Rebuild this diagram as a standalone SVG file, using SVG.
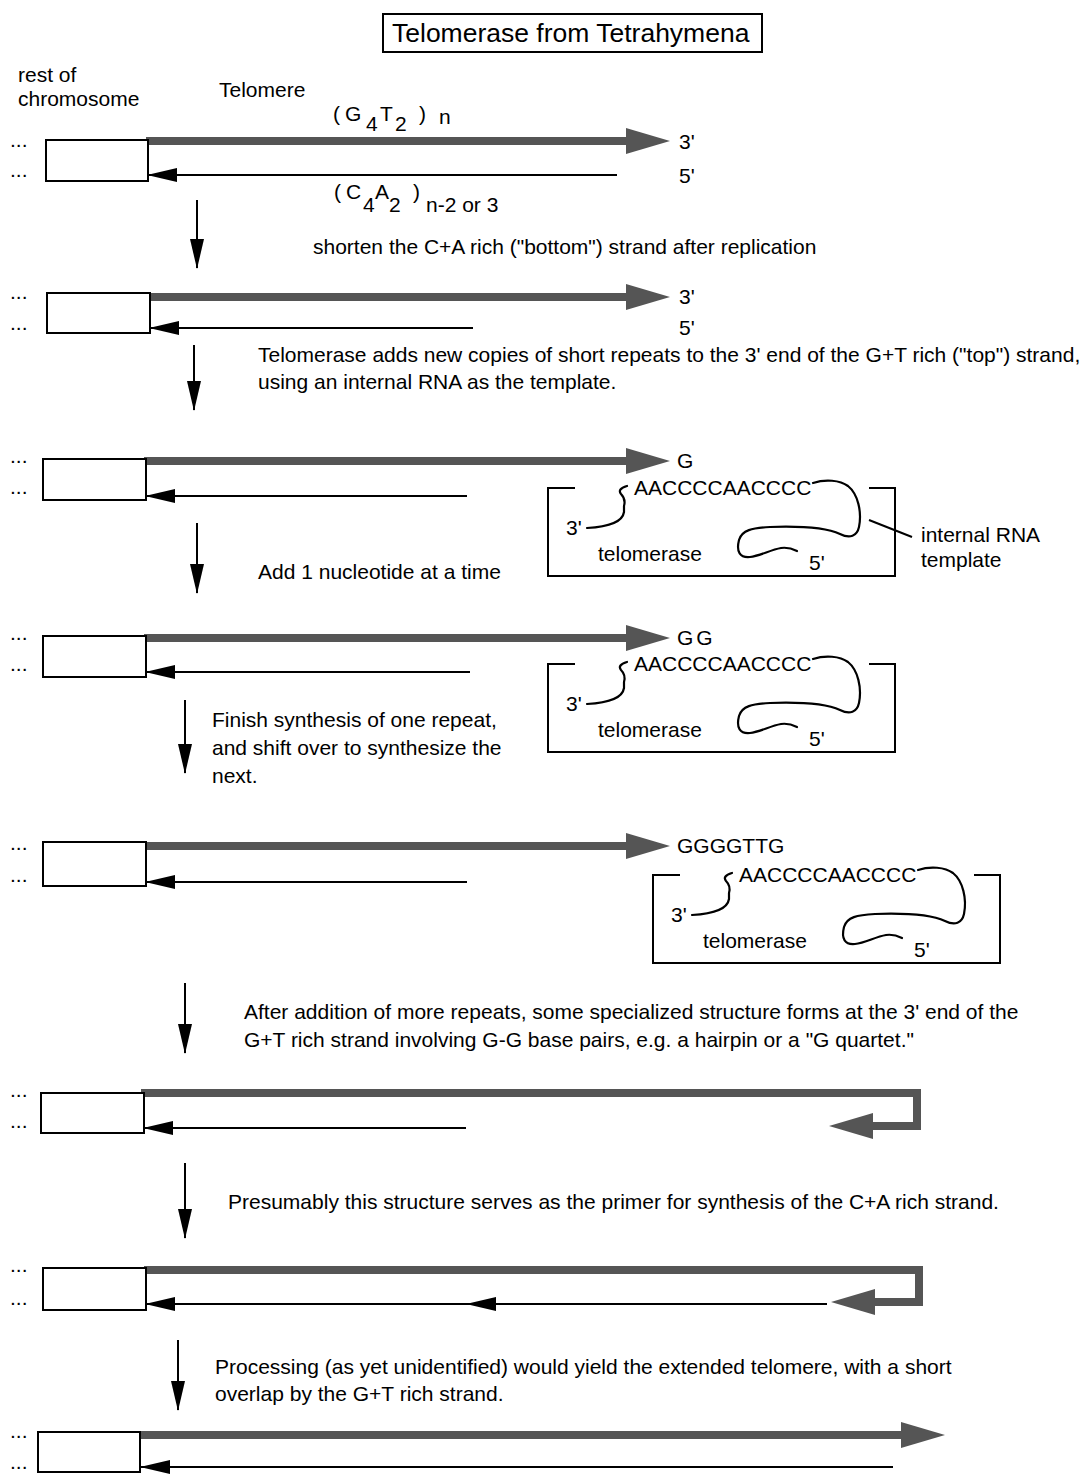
<svg xmlns="http://www.w3.org/2000/svg" width="1091" height="1475" viewBox="0 0 1091 1475">
<style>
text { font-family: "Liberation Sans", Arial, sans-serif; font-size: 21px; fill: #000; }
.title { font-size: 26.5px; }
.box { fill: #fff; stroke: #000; stroke-width: 2; }
.thick { fill: none; stroke: #555; stroke-width: 8; stroke-linejoin: miter; marker-end: url(#thickHead); }
.thin { fill: none; stroke: #000; stroke-width: 2; marker-end: url(#thinHead); }
.rna { fill: none; stroke: #000; stroke-width: 2.2; stroke-linecap: round; stroke-linejoin: round; }
.bracket { fill: none; stroke: #000; stroke-width: 2; }
</style>
<defs>
<marker id="thickHead" viewBox="0 0 44 26" markerWidth="44" markerHeight="26" refX="1" refY="13" orient="auto" markerUnits="userSpaceOnUse">
<path d="M0,0 L44,13 L0,26 z" fill="#555"/>
</marker>
<marker id="thinHead" viewBox="0 0 30 14" markerWidth="30" markerHeight="14" refX="29" refY="7" orient="auto" markerUnits="userSpaceOnUse">
<path d="M0,0 L30,7 L0,14 z" fill="#000"/>
</marker>
</defs>

<g id="title">
<rect x="383" y="14" width="379" height="38" fill="#fff" stroke="#000" stroke-width="2"/>
<text class="title" x="392" y="42">Telomerase from Tetrahymena</text>
</g>

<g id="labels">
<text x="18" y="82">rest of</text>
<text x="18" y="106">chromosome</text>
<text x="219" y="97">Telomere</text>
<text><tspan x="333" y="121">(</tspan><tspan x="345" y="121">G</tspan><tspan x="366" y="131">4</tspan><tspan x="380" y="121">T</tspan><tspan x="395" y="131">2</tspan><tspan x="419" y="121">)</tspan><tspan x="439" y="124">n</tspan></text>
<text><tspan x="334" y="199">(</tspan><tspan x="346" y="199">C</tspan><tspan x="363" y="212">4</tspan><tspan x="375" y="199">A</tspan><tspan x="389" y="212">2</tspan><tspan x="413" y="199">)</tspan><tspan x="426" y="212">n-2 or 3</tspan></text>
</g>

<g id="steps">
<text x="313" y="254">shorten the C+A rich ("bottom") strand after replication</text>
<text x="258" y="362">Telomerase adds new copies of short repeats to the 3' end of the G+T rich ("top") strand,</text>
<text x="258" y="389">using an internal RNA as the template.</text>
<text x="258" y="579">Add 1 nucleotide at a time</text>
<text x="212" y="727">Finish synthesis of one repeat,</text>
<text x="212" y="755">and shift over to synthesize the</text>
<text x="212" y="783">next.</text>
<text x="244" y="1019">After addition of more repeats, some specialized structure forms at the 3' end of the</text>
<text x="244" y="1047">G+T rich strand involving G-G base pairs, e.g. a hairpin or a "G quartet."</text>
<text x="228" y="1209">Presumably this structure serves as the primer for synthesis of the C+A rich strand.</text>
<text x="215" y="1374">Processing (as yet unidentified) would yield the extended telomere, with a short</text>
<text x="215" y="1401">overlap by the G+T rich strand.</text>
</g>

<g id="connectors">
<path class="thin" d="M197 200 V268"/>
<path class="thin" d="M194 345 V410"/>
<path class="thin" d="M197 523 V593"/>
<path class="thin" d="M185 700 V773"/>
<path class="thin" d="M185 983 V1053"/>
<path class="thin" d="M185 1163 V1238"/>
<path class="thin" d="M178 1340 V1410"/>
</g>

<g id="row1">
<text x="10" y="147">...</text>
<text x="10" y="177">...</text>
<path class="thick" d="M146 141 H627"/>
<path class="thin" d="M617 175 H148"/>
<rect class="box" x="46" y="140" width="102" height="41"/>
<text x="679" y="149">3'</text>
<text x="679" y="183">5'</text>
</g>

<g id="row2">
<text x="10" y="299">...</text>
<text x="10" y="330">...</text>
<path class="thick" d="M148 297 H627"/>
<path class="thin" d="M473 328 H150"/>
<rect class="box" x="47" y="293" width="103" height="40"/>
<text x="679" y="304">3'</text>
<text x="679" y="335">5'</text>
</g>

<g id="row3">
<text x="10" y="463">...</text>
<text x="10" y="494">...</text>
<path class="thick" d="M144 461 H627"/>
<path class="thin" d="M467 496 H146"/>
<rect class="box" x="43" y="459" width="103" height="41"/>
<text x="677" y="468">G</text>
</g>

<g id="telomerase1">
<path class="bracket" d="M575 488 H548 V576 H895 V488 H869"/>
<text x="634" y="495">AACCCCAACCCC</text>
<path class="rna" d="M627 486 Q617 489 621 494 Q626 499 624 506 L624 512 Q622 526 587 528"/>
<path class="rna" d="M813 483 C825 479 840 480 848 486 C858 494 862 512 859 527 C857 536 850 539 840 534 C825 527 800 526 770 527 C752 528 742 530 739 540 C736 552 740 558 750 557 C760 556 770 550 781 548 C788 547 793 549 797 551"/>
<text x="566" y="535">3'</text>
<text x="598" y="561">telomerase</text>
<text x="809" y="570">5'</text>
<path d="M869 520 L912 537" stroke="#000" stroke-width="2"/>
<text x="921" y="542">internal RNA</text>
<text x="921" y="567">template</text>
</g>

<g id="row4">
<text x="10" y="640">...</text>
<text x="10" y="671">...</text>
<path class="thick" d="M144 638 H627"/>
<path class="thin" d="M470 672 H146"/>
<rect class="box" x="43" y="636" width="103" height="41"/>
<text x="677" y="645" letter-spacing="3">GG</text>
</g>

<g id="telomerase2" transform="translate(0,176)">
<path class="bracket" d="M575 488 H548 V576 H895 V488 H869"/>
<text x="634" y="495">AACCCCAACCCC</text>
<path class="rna" d="M627 486 Q617 489 621 494 Q626 499 624 506 L624 512 Q622 526 587 528"/>
<path class="rna" d="M813 483 C825 479 840 480 848 486 C858 494 862 512 859 527 C857 536 850 539 840 534 C825 527 800 526 770 527 C752 528 742 530 739 540 C736 552 740 558 750 557 C760 556 770 550 781 548 C788 547 793 549 797 551"/>
<text x="566" y="535">3'</text>
<text x="598" y="561">telomerase</text>
<text x="809" y="570">5'</text>
</g>

<g id="row5">
<text x="10" y="850">...</text>
<text x="10" y="882">...</text>
<path class="thick" d="M144 846 H627"/>
<path class="thin" d="M467 882 H146"/>
<rect class="box" x="43" y="842" width="103" height="44"/>
<text x="677" y="853">GGGGTTG</text>
</g>

<g id="telomerase3" transform="translate(105,387)">
<path class="bracket" d="M575 488 H548 V576 H895 V488 H869"/>
<text x="634" y="495">AACCCCAACCCC</text>
<path class="rna" d="M627 486 Q617 489 621 494 Q626 499 624 506 L624 512 Q622 526 587 528"/>
<path class="rna" d="M813 483 C825 479 840 480 848 486 C858 494 862 512 859 527 C857 536 850 539 840 534 C825 527 800 526 770 527 C752 528 742 530 739 540 C736 552 740 558 750 557 C760 556 770 550 781 548 C788 547 793 549 797 551"/>
<text x="566" y="535">3'</text>
<text x="598" y="561">telomerase</text>
<text x="809" y="570">5'</text>
</g>

<g id="row6">
<text x="10" y="1097">...</text>
<text x="10" y="1128">...</text>
<path class="thick" d="M141 1093 H917 V1126 H872"/>
<path class="thin" d="M466 1128 H144"/>
<rect class="box" x="41" y="1093" width="103" height="40"/>
</g>

<g id="row7">
<text x="10" y="1272">...</text>
<text x="10" y="1305">...</text>
<path class="thick" d="M144 1270 H919 V1302 H874"/>
<polyline class="thin" points="827,1304 467,1304 146,1304" marker-mid="url(#thinHead)"/>
<rect class="box" x="43" y="1268" width="103" height="42"/>
</g>

<g id="row8">
<text x="10" y="1438">...</text>
<text x="10" y="1469">...</text>
<path class="thick" d="M139 1435 H902"/>
<path class="thin" d="M893 1467 H141"/>
<rect class="box" x="38" y="1432" width="102" height="40"/>
</g>
</svg>
